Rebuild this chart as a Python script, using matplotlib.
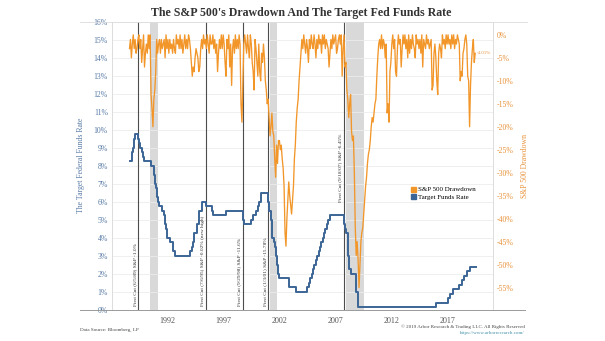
import matplotlib
matplotlib.use("Agg")
import matplotlib.pyplot as plt
from matplotlib.lines import Line2D
import numpy as np

# ---------------- data ----------------
# Target fed funds rate: change dates (decimal years) and new level (%)
fed_dates = [1988.67, 1988.88, 1988.96, 1989.07, 1989.15, 1989.43, 1989.52, 1989.57,
             1989.80, 1989.88, 1989.96, 1990.54, 1990.83, 1990.87, 1990.93, 1990.97,
             1991.02, 1991.08, 1991.16, 1991.33, 1991.60, 1991.70, 1991.83, 1991.85,
             1991.93, 1991.97, 1992.27, 1992.50, 1992.68, 1994.09, 1994.22, 1994.30,
             1994.38, 1994.63, 1994.88, 1995.09, 1995.51, 1995.97, 1996.08, 1997.23,
             1998.74, 1998.79, 1998.88, 1999.50, 1999.65, 1999.88, 2000.09, 2000.22,
             2000.38, 2001.01, 2001.08, 2001.22, 2001.30, 2001.38, 2001.49, 2001.64,
             2001.71, 2001.76, 2001.84, 2001.95, 2002.85, 2003.49, 2004.49, 2004.61,
             2004.72, 2004.86, 2004.96, 2005.09, 2005.22, 2005.38, 2005.50, 2005.61,
             2005.72, 2005.84, 2005.96, 2006.08, 2006.22, 2006.36, 2006.49, 2007.71,
             2007.83, 2007.95, 2008.06, 2008.08, 2008.21, 2008.33, 2008.77, 2008.83,
             2008.96, 2015.96, 2016.96, 2017.21, 2017.46, 2017.96, 2018.21, 2018.46,
             2018.73, 2018.97, 2019.50]
fed_rates = [8.25, 8.75, 9.0, 9.5, 9.75, 9.5, 9.25, 9.0,
             8.75, 8.5, 8.25, 8.0, 7.75, 7.5, 7.25, 7.0,
             6.75, 6.25, 6.0, 5.75, 5.5, 5.25, 5.0, 4.75,
             4.5, 4.0, 3.75, 3.25, 3.0, 3.25, 3.5, 3.75,
             4.25, 4.75, 5.5, 6.0, 5.75, 5.5, 5.25, 5.5,
             5.25, 5.0, 4.75, 5.0, 5.25, 5.5, 5.75, 6.0,
             6.5, 6.0, 5.5, 5.0, 4.5, 4.0, 3.75, 3.5,
             3.0, 2.5, 2.0, 1.75, 1.25, 1.0, 1.25, 1.5,
             1.75, 2.0, 2.25, 2.5, 2.75, 3.0, 3.25, 3.5,
             3.75, 4.0, 4.25, 4.5, 4.75, 5.0, 5.25, 4.75,
             4.5, 4.25, 3.5, 3.0, 2.25, 2.0, 1.5, 1.0,
             0.125, 0.375, 0.625, 0.875, 1.125, 1.375, 1.625, 1.875,
             2.125, 2.375, 2.375]

# S&P 500 drawdown (%), monthly, starting Sep 1988
dd_start = 1988 + 8 / 12
dd_1988_1999 = [
    -3, -1, -5, -2,
    0, -3, -1, -4, -3, -1, 0, -3, -1, -6, -3, 0,
    -7, -4, -2, -4, 0, -3, 0, -13, -16, -20, -14, -12,
    -8, -1, -4, -2, -1, -4, -1, -3, -2, -1, -5, 0,
    -3, -1, -4, -1, -3, -2, -4, -1, -3, -4, 0, -2,
    -1, -3, 0, -3, -1, -4, -2, 0, -3, -1, -3, 0,
    -1, -3, -6, -9, -7, -8, -5, -3, -4, -5, -8, -7,
    -3, -1, -3, 0, -2, -1, -3, 0, -2, -4, 0, -2,
    -2, 0, -3, -1, -4, -2, -8, -4, -1, -3, 0, -3,
    0, -2, -6, -9, -1, -3, 0, -7, -2, -11, -3, -1,
    -4, 0, -3, -1, -3, 0, -2, -15, -19, -10, -2, 0,
    -2, -4, 0, -3, -5, 0, -2, -6, -8, -12, -1, -3,
]
dd_2000_2009 = [
    -6, -9, -2, -8, -10, -4, -6, -2, -5, -10, -12, -15,
    -14, -18, -22, -20, -17, -21, -22, -27, -31, -24, -28, -23,
    -23, -25, -24, -27, -29, -33, -43, -46, -40, -36, -32, -35,
    -37, -39, -36, -33, -27, -24, -19, -16, -14, -10, -7, -4,
    -1, -3, 0, -2, -4, -1, -3, -6, -1, -3, 0, -2,
    -3, 0, -2, -5, -1, -3, 0, -2, -1, -4, 0, -2,
    0, -3, -1, -2, -3, -7, -4, -1, -3, 0, -2, -1,
    0, -4, -3, -1, 0, -2, 0, -9, -3, 0, -7, -6,
    -12, -14, -18, -15, -13, -21, -23, -22, -30, -42, -48, -45,
    -49, -55, -50, -45, -43, -42, -39, -36, -33, -31, -28, -26,
]
dd_2010_2019 = [
    -25, -23, -20, -18, -19, -17, -15, -14, -9, -5, -2, -1,
    -3, 0, -3, -1, -2, -5, -2, -17, -15, -19, -8, -6,
    -2, 0, -3, -1, -8, -9, -3, 0, -2, -1, -7, -3,
    0, -2, 0, -3, -1, -5, 0, -4, -1, -3, 0, -2,
    -3, -5, 0, -2, -1, -3, -1, -4, 0, -7, -1, -2,
    -3, 0, -2, -1, -3, -2, -1, -12, -11, -4, -2, -5,
    -10, -13, -4, -2, -3, -5, 0, -2, -1, -3, 0, -2,
    0, -2, -1, -3, 0, -2, 0, -3, -1, -2, 0, -1,
    -2, -10, -8, -9, -4, -3, -1, 0, -2, -9, -10, -20,
    -11, -6, -3, -1, -6, -4.01,
]

# First rate cuts of each easing cycle
cut_dates = [1989.43, 1995.51, 1998.74, 2001.01, 2007.71]
cut_labels = ["First Cut (6/5/89) S&P -1.0%",
              "First Cut (7/6/95) S&P -0.02% (new high)",
              "First Cut (9/29/98) S&P -11.6%",
              "First Cut (1/3/01) S&P -15.78%",
              "First Cut (9/18/07) S&P -6.45%"]
cut_label_bottom = [0.2, 0.2, 0.2, 0.2, 6.0]

# Recession periods
rec_start = [1990.50, 2001.17, 2007.92]
rec_end = [1991.17, 2001.83, 2009.50]

year_ticks = [1992, 1997, 2002, 2007, 2012, 2017]

# ---------------- style ----------------
BLUE = "#3b6596"
ORANGE = "#f2962a"
ORANGE_TXT = "#e8923a"
BLUE_TXT = "#587aa6"
GRID = "#ececec"
SERIF = ["Liberation Serif", "DejaVu Serif"]

W, H = 605, 341
fig = plt.figure(figsize=(W / 100, H / 100), dpi=100)
L, R, T, B = 112, 493, 22, 309.6
ax = fig.add_axes([L / W, 1 - B / H, (R - L) / W, (B - T) / H])
ax2 = ax.twinx()

# recession shading and first-cut markers
for s, e in zip(rec_start, rec_end):
    ax.axvspan(s, e, color="#d9d9d9", lw=0, zorder=0.5)
for d, lab, yb in zip(cut_dates, cut_labels, cut_label_bottom):
    ax.axvline(d, color="#4d4d4d", lw=0.8, zorder=1)
    ax.text(d - 0.12, yb, lab, rotation=90, ha="right", va="bottom",
            fontsize=3.9, family=SERIF, color="#333333", zorder=3)

# fed funds target rate
ax.plot(fed_dates, fed_rates, drawstyle="steps-post", color=BLUE, lw=1.4,
        zorder=2)

# drawdown
dd_values = dd_1988_1999 + dd_2000_2009 + dd_2010_2019
dd_x = dd_start + np.arange(len(dd_values)) / 12
ax2.plot(dd_x, dd_values, color=ORANGE, lw=0.95, zorder=2)
ax2.text(dd_x[-1] + 0.15, dd_values[-1], f"{dd_values[-1]:.2f}%",
         fontsize=3.5, family=SERIF, color=ORANGE_TXT, va="center", ha="left")

# axes
ax.set_xlim(1987.11, 2021.0)
ax.set_ylim(0, 16)
ax2.set_ylim(-59.8, 2.8)
ax.set_yticks(range(0, 17))
ax.set_yticklabels([f"{v}%" for v in range(0, 17)])
ax2.set_yticks(range(-55, 1, 5))
ax2.set_yticklabels([f"{v}%" for v in range(-55, 1, 5)])
ax.set_xticks(year_ticks)
ax.set_xticklabels([str(y) for y in year_ticks])

ax.grid(axis="y", color=GRID, lw=0.6, zorder=0)
ax.set_axisbelow(True)
ax.tick_params(axis="y", length=0, pad=3, labelsize=5.6, labelcolor=BLUE_TXT)
ax.tick_params(axis="x", length=0, pad=5, labelsize=5.8, labelcolor="#555555")
ax2.tick_params(axis="y", length=0, pad=3, labelsize=5.6, labelcolor=ORANGE_TXT)
for lbl in ax.get_yticklabels() + ax.get_xticklabels() + ax2.get_yticklabels():
    lbl.set_family(SERIF)

for a in (ax, ax2):
    a.spines["top"].set_visible(False)
    a.spines["bottom"].set_visible(False)
    a.spines["left"].set_color("#dddddd")
    a.spines["right"].set_color("#dddddd")
    a.spines["left"].set_linewidth(0.6)
    a.spines["right"].set_linewidth(0.6)

ax.set_ylabel("The Target Federal Funds Rate", fontsize=5.6, family=SERIF,
              color=BLUE_TXT, labelpad=6)
ax2.set_ylabel("S&P 500 Drawdown", fontsize=5.6, family=SERIF,
               color=ORANGE_TXT, labelpad=5)

# frame lines across the figure
fig.add_artist(Line2D([80 / W, 527 / W], [1 - T / H, 1 - T / H],
                      color="#dcdcdc", lw=0.6))
fig.add_artist(Line2D([80 / W, 525 / W], [1 - B / H, 1 - B / H],
                      color="#9a9a9a", lw=0.7))

# legend
handles = [Line2D([], [], marker="s", ls="none", color=ORANGE, markersize=3.6),
           Line2D([], [], marker="s", ls="none", color=BLUE, markersize=3.6)]
leg = fig.legend(handles, ["S&P 500 Drawdown", "Target Funds Rate"],
                 loc="upper left", bbox_to_anchor=(405 / W, 1 - 180 / H),
                 frameon=False, handlelength=0.6, handletextpad=0.4,
                 labelspacing=0.25, prop={"family": SERIF, "size": 5.0})

# title and footers
fig.text(301 / W, 1 - 13 / H, "The S&P 500's Drawdown And The Target Fed Funds Rate",
         ha="center", va="center", fontsize=8.6, fontweight="bold",
         family=SERIF, color="#333333")
fig.text(80 / W, 1 - 330 / H, "Data Source: Bloomberg, LP", fontsize=3.6,
         family=SERIF, color="#444444", va="center")
fig.text(525 / W, 1 - 327 / H,
         "\u00a9 2019 Arbor Research & Trading LLC. All Rights Reserved",
         fontsize=3.6, family=SERIF, color="#444444", va="center", ha="right")
fig.text(525 / W, 1 - 333 / H, "https://www.arborresearch.com/", fontsize=3.6,
         family=SERIF, color="#3f8fa8", va="center", ha="right")

fig.savefig("out.png", dpi=100)
